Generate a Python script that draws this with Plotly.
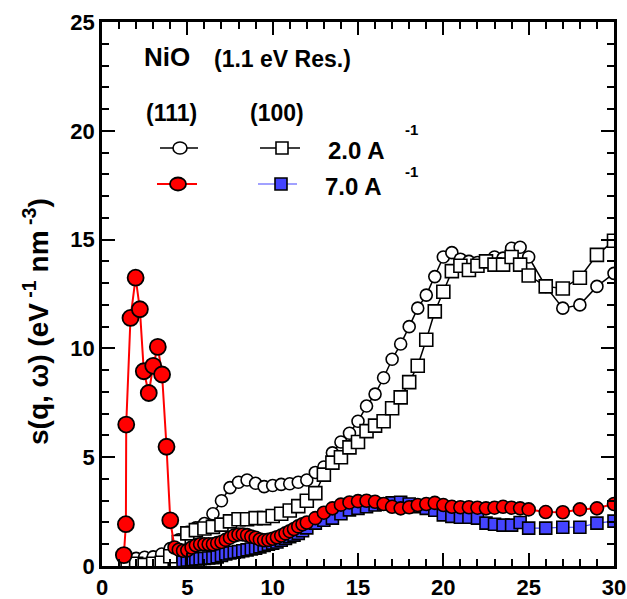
import plotly.graph_objects as go

# ---------------- data ----------------
# 2.0 A^-1, (111)  open circles
c2_x = [1.5, 2.0, 2.5, 3.0, 3.5, 4.0, 4.5, 5.0, 5.5, 6.0, 6.5, 7.0, 7.5, 8.0, 8.5, 9.0, 9.5,
        10.0, 10.5, 11.0, 11.5, 12.0, 12.5, 13.0, 13.5, 14.0, 14.5, 15.0, 15.5, 16.0, 16.5,
        17.0, 17.5, 18.0, 18.5, 19.0, 19.5, 20.0, 20.5, 21.0, 21.5, 22.0, 22.5, 23.0, 23.5,
        24.0, 24.5, 25.0, 26.0, 27.0, 28.0, 29.0, 30.0]
c2_y = [0.3, 0.35, 0.4, 0.42, 0.55, 0.8, 1.2, 1.55, 1.75, 1.95, 2.4, 3.0, 3.6, 3.85, 3.95, 3.8, 3.65,
        3.7, 3.75, 3.78, 3.85, 3.95, 4.3, 4.55, 5.2, 5.7, 6.1, 6.65, 7.35, 7.9, 8.65,
        9.5, 10.2, 11.0, 11.85, 12.45, 13.3, 14.2, 14.4, 14.1, 14.0, 13.95, 14.0, 14.2, 14.15,
        14.6, 14.65, 14.2, 12.85, 11.85, 12.0, 12.85, 13.45]

# 2.0 A^-1, (100)  open squares
s2_x = [1.5, 2.0, 2.5, 3.0, 3.5, 4.0, 4.5, 5.0, 5.5, 6.0, 6.5, 7.0, 7.5, 8.0, 8.5, 9.0, 9.5,
        10.0, 10.5, 11.0, 11.5, 12.0, 12.5, 13.0, 13.5, 14.0, 14.5, 15.0, 15.5, 16.0, 16.5,
        17.0, 17.5, 18.0, 18.5, 19.0, 19.5, 20.0, 20.5, 21.0, 21.5, 22.0, 22.5, 23.0, 23.5,
        24.0, 24.5, 25.0, 26.0, 27.0, 28.0, 29.0, 30.0]
s2_y = [0.08, 0.1, 0.05, 0.1, 0.15, 0.45, 1.1, 1.5, 1.65, 1.72, 1.8, 1.9, 2.05, 2.15, 2.15, 2.2, 2.2,
        2.3, 2.4, 2.55, 2.75, 3.0, 3.35, 4.2, 4.75, 5.0, 5.45, 5.7, 6.2, 6.45, 6.65,
        7.25, 7.75, 8.45, 9.2, 10.4, 11.7, 12.6, 13.55, 13.8, 13.6, 13.8, 14.0, 13.85, 13.85,
        14.2, 13.85, 13.35, 12.85, 12.75, 13.25, 14.3, 14.95]

# 7.0 A^-1, (111)  red circles
c7_x = [1.28, 1.4, 1.42, 1.67, 1.97, 2.22, 2.45, 2.74, 3.0, 3.27, 3.52, 3.78, 4.0,
        4.25, 4.5, 4.75, 5.0, 5.25, 5.5, 5.75, 6.0, 6.25, 6.5, 6.75, 7.0, 7.25, 7.5, 7.75,
        8.0, 8.25, 8.5, 8.75, 9.0, 9.25, 9.5, 9.75, 10.0, 10.25, 10.5, 10.75, 11.0, 11.25,
        11.5, 11.75, 12.0, 12.5, 13.0, 13.5, 14.0, 14.5, 15.0, 15.5, 16.0, 16.5, 17.0, 17.5,
        18.0, 18.5, 19.0, 19.5, 20.0, 20.5, 21.0, 21.5, 22.0, 22.5, 23.0, 23.5, 24.0, 24.5,
        25.0, 26.0, 27.0, 28.0, 29.0, 30.0]
c7_y = [0.5, 1.92, 6.5, 11.4, 13.25, 11.8, 8.95, 7.95, 9.2, 10.07, 8.8, 5.48, 2.1,
        0.85, 0.75, 0.7, 0.72, 0.85, 0.95, 1.0, 1.0, 1.0, 1.0, 1.05, 1.1, 1.2, 1.3, 1.4,
        1.45, 1.45, 1.42, 1.35, 1.3, 1.22, 1.18, 1.2, 1.25, 1.32, 1.4, 1.5, 1.6, 1.7,
        1.82, 1.92, 2.0, 2.2, 2.45, 2.65, 2.82, 2.92, 2.98, 3.0, 2.95, 2.85, 2.72, 2.65,
        2.7, 2.8, 2.85, 2.9, 2.8, 2.72, 2.7, 2.7, 2.68, 2.65, 2.68, 2.72, 2.68, 2.65,
        2.6, 2.48, 2.47, 2.6, 2.65, 2.85]

# 7.0 A^-1, (100)  blue squares
s7_x = [4.75, 5.0, 5.25, 5.5, 5.75, 6.0, 6.25, 6.5, 6.75, 7.0, 7.25, 7.5, 7.75, 8.0, 8.25,
        8.5, 8.75, 9.0, 9.25, 9.5, 9.75, 10.0, 10.25, 10.5, 10.75, 11.0, 11.25, 11.5, 11.75,
        12.0, 12.5, 13.0, 13.5, 14.0, 14.5, 15.0, 15.5, 16.0, 16.5, 17.0, 17.5, 18.0, 18.5,
        19.0, 19.5, 20.0, 20.5, 21.0, 21.5, 22.0, 22.5, 23.0, 23.5, 24.0, 24.5, 25.0,
        26.0, 27.0, 28.0, 29.0, 30.0]
s7_y = [0.25, 0.27, 0.3, 0.32, 0.33, 0.35, 0.37, 0.38, 0.42, 0.48, 0.55, 0.6, 0.63, 0.66, 0.7,
        0.74, 0.78, 0.82, 0.88, 0.94, 1.0, 1.05, 1.1, 1.18, 1.27, 1.35, 1.42, 1.5, 1.62,
        1.75, 1.97, 2.1, 2.2, 2.4, 2.58, 2.65, 2.72, 2.8, 2.85, 2.9, 2.93, 2.85, 2.72,
        2.65, 2.56, 2.35, 2.28, 2.24, 2.24, 2.2, 1.97, 1.92, 1.88, 1.88, 2.0, 1.74,
        1.74, 1.78, 1.78, 1.97, 2.06]

x_ticks = [0, 5, 10, 15, 20, 25, 30]
y_ticks = [0, 5, 10, 15, 20, 25]

# ---------------- figure ----------------
W, H = 627, 599
L, R, T, B = 102, 13, 22, 33
PW, PH = W - L - R, H - T - B


def px(x):
    return (x - L) / PW


def py(y):
    return (H - B - y) / PH


FONT = "Arial, Liberation Sans, sans-serif"
BLUE = "#4444ff"
RED = "#ff0000"
n_peak = 13

fig = go.Figure()

fig.add_trace(go.Scatter(
    x=c2_x, y=c2_y, mode="lines+markers",
    line=dict(color="black", width=1.5),
    marker=dict(symbol="circle", size=12, color="white", line=dict(color="black", width=1.6)),
    showlegend=False))

fig.add_trace(go.Scatter(
    x=s2_x, y=s2_y, mode="lines+markers",
    line=dict(color="black", width=1.5),
    marker=dict(symbol="square", size=13, color="white", line=dict(color="black", width=1.6)),
    showlegend=False))

fig.add_trace(go.Scatter(
    x=s7_x, y=s7_y, mode="lines+markers",
    line=dict(color=BLUE, width=1.2),
    marker=dict(symbol="square", size=12, color=BLUE, line=dict(color="black", width=1.6)),
    showlegend=False))

fig.add_trace(go.Scatter(
    x=c7_x, y=c7_y, mode="lines",
    line=dict(color=RED, width=2),
    showlegend=False))
fig.add_trace(go.Scatter(
    x=c7_x[n_peak:], y=c7_y[n_peak:], mode="markers",
    marker=dict(symbol="circle", size=13, color=RED, line=dict(color="black", width=1.6)),
    showlegend=False))
fig.add_trace(go.Scatter(
    x=c7_x[:n_peak], y=c7_y[:n_peak], mode="markers",
    marker=dict(symbol="circle", size=16, color=RED, line=dict(color="black", width=1.8)),
    showlegend=False))

axis_common = dict(
    showline=True, linecolor="black", linewidth=2.5, mirror="allticks",
    ticks="inside", ticklen=13, tickwidth=2, tickcolor="black",
    showgrid=False, zeroline=False, automargin=False,
    tickfont=dict(family=FONT, size=22, color="black", weight="bold"),
    minor=dict(ticks="inside", ticklen=7, tickwidth=1.5, tickcolor="black", dtick=1),
)

fig.update_xaxes(range=[0, 30], tickvals=x_ticks, ticktext=[str(v) for v in x_ticks], **axis_common)
fig.update_yaxes(range=[0, 25], tickvals=y_ticks, ticktext=[str(v) for v in y_ticks], **axis_common)

shapes = []


def hline(x0, x1, y, color, width):
    shapes.append(dict(type="line", xref="paper", yref="paper",
                       x0=px(x0), x1=px(x1), y0=py(y), y1=py(y),
                       line=dict(color=color, width=width)))


def ellipse(cx, cy, w, h, fill, lw):
    shapes.append(dict(type="circle", xref="paper", yref="paper",
                       x0=px(cx - w / 2), x1=px(cx + w / 2), y0=py(cy + h / 2), y1=py(cy - h / 2),
                       fillcolor=fill, line=dict(color="black", width=lw)))


def square(cx, cy, s, fill, lw):
    shapes.append(dict(type="rect", xref="paper", yref="paper",
                       x0=px(cx - s / 2), x1=px(cx + s / 2), y0=py(cy + s / 2), y1=py(cy - s / 2),
                       fillcolor=fill, line=dict(color="black", width=lw)))


# legend glyphs
hline(160, 198, 148, "black", 1.5)
ellipse(180, 148, 14, 12, "white", 1.6)
hline(260, 300, 148, "black", 1.5)
square(282, 148, 12, "white", 1.6)
hline(157, 197, 184, RED, 2)
ellipse(178, 184, 16, 13, RED, 1.8)
hline(258, 297, 184, BLUE, 1.2)
square(281, 184, 12, BLUE, 1.6)

annotations = []


def text(t, x, y, size, xanchor="center", angle=0):
    annotations.append(dict(text=t, xref="paper", yref="paper", x=px(x), y=py(y),
                            xanchor=xanchor, yanchor="middle", showarrow=False, textangle=angle,
                            font=dict(family=FONT, size=size, color="black", weight="bold")))


text("NiO", 142, 57, 26, "left")
text("(1.1 eV Res.)", 212, 59, 23, "left")
text("(111)", 144, 113, 23, "left")
text("(100)", 248, 113, 23, "left")
text("2.0 A", 326, 150, 24, "left")
text("-1", 403, 130, 15, "left")
text("7.0 A", 323, 186, 24, "left")
text("-1", 403, 171, 15, "left")
text("s(q, \u03c9) (eV<sup> -1</sup> nm<sup> -3</sup>)", 36, 322, 28, "center", -90)

fig.update_layout(
    width=W, height=H,
    margin=dict(l=L, r=R, t=T, b=B, pad=0, autoexpand=False),
    paper_bgcolor="white", plot_bgcolor="white",
    shapes=shapes, annotations=annotations,
    showlegend=False,
)

fig.write_html("out.html", config={"displayModeBar": False},
               post_script="document.body.style.margin='0';document.body.style.overflow='hidden';")
